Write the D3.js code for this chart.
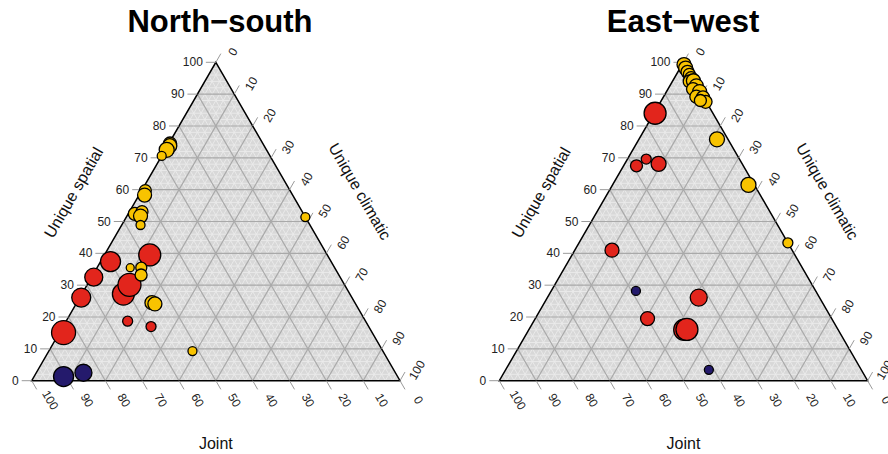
<!DOCTYPE html>
<html>
<head>
<meta charset="utf-8">
<script src="https://cdn.jsdelivr.net/npm/d3@7"></script>
<style>
  body { margin: 0; background: #fff; }
  svg { display: block; }
  text { font-family: "Liberation Sans", Arial, Helvetica, sans-serif; }
</style>
</head>
<body>
<svg id="chart" width="888" height="454"></svg>
<script>
// ---- tick values shared by the three axes of each ternary panel ----
const tickValues = [0, 10, 20, 30, 40, 50, 60, 70, 80, 90, 100];
const tickLabels = tickValues.map(String);
const axisTitles = ["Unique spatial", "Unique climatic", "Joint"];
const panelTitles = ["North\u2212south", "East\u2212west"];

// ---- North–south partition (percent of explained variation) ----
const nsSpatial  = [15.1, 26.1, 32.5, 37.4, 39.5, 27.2, 30.1, 18.7, 17.0,
                    1.3, 2.5,
                    74.5, 73.8, 72.5, 70.6, 59.7, 58.3, 52.4, 53.1, 51.7, 48.9, 51.4,
                    35.5, 35.5, 33.2, 24.5, 24.1, 9.3];
const nsClimatic = [1.1, 0.4, 0.6, 2.7, 12.3, 11.3, 11.5, 16.7, 23.9,
                    8.0, 12.8,
                    0.3, 0.6, 0.4, 0.0, 1.0, 1.5, 1.8, 3.4, 3.7, 5.1, 48.6,
                    9.0, 12.0, 13.1, 20.4, 21.4, 39.0];
const nsJoint    = [83.8, 73.5, 66.9, 59.9, 48.2, 61.5, 58.4, 64.6, 59.1,
                    90.7, 84.7,
                    25.2, 25.6, 27.1, 29.4, 39.3, 40.2, 45.8, 43.5, 44.6, 46.0, 0.0,
                    55.5, 52.5, 53.7, 55.1, 54.5, 51.7];
const nsWeight   = [12, 9.5, 9, 10, 11, 11, 11.5, 5, 5,
                    10, 8.5,
                    6.5, 7, 7.5, 4.5, 6, 7, 6.5, 6, 7, 4.5, 4.5,
                    4, 5.5, 6, 7, 7, 4.5];
const nsGroup    = ["g2", "g2", "g2", "g2", "g2", "g2", "g2", "g2", "g2",
                    "g1", "g1",
                    "g3", "g3", "g3", "g3", "g3", "g3", "g3", "g3", "g3", "g3", "g3",
                    "g3", "g3", "g3", "g3", "g3", "g3"];

// ---- East–west partition ----
const ewSpatial  = [84.0, 67.5, 69.6, 68.1, 41.0, 26.1, 19.5, 16.0, 16.1,
                    28.2, 3.4,
                    75.8, 61.5, 43.3,
                    99.3, 98.2, 97.0, 96.2, 95.0, 94.0, 94.2, 92.6, 91.6, 90.8, 89.2, 89.0, 87.6, 88.0];
const ewClimatic = [0.3, 3.5, 5.1, 9.2, 10.1, 41.1, 30.5, 42.2, 42.9,
                    23.0, 55.2,
                    21.2, 36.9, 56.7,
                    0.5, 1.5, 2.6, 3.5, 4.6, 4.7, 5.6, 7.2, 6.8, 9.0, 8.9, 10.8, 12.2, 10.6];
const ewJoint    = [15.7, 29.0, 25.3, 22.7, 48.9, 32.8, 50.0, 41.8, 41.0,
                    48.8, 41.4,
                    3.0, 1.6, 0.0,
                    0.2, 0.3, 0.4, 0.3, 0.4, 1.3, 0.2, 0.2, 1.6, 0.2, 1.9, 0.2, 0.2, 1.4];
const ewWeight   = [11, 6, 5, 7.5, 7, 8.5, 7, 10.5, 11,
                    4.5, 4.5,
                    7.5, 7.5, 5,
                    7, 7, 6.5, 6, 6.5, 6.5, 7, 7, 6.5, 7, 6.5, 6.5, 6.5, 6];
const ewGroup    = ["g2", "g2", "g2", "g2", "g2", "g2", "g2", "g2", "g2",
                    "g1", "g1",
                    "g3", "g3", "g3",
                    "g3", "g3", "g3", "g3", "g3", "g3", "g3", "g3", "g3", "g3", "g3", "g3", "g3", "g3"];

const groupNames  = ["g1", "g2", "g3"];
const groupColors = ["#241a6c", "#e2251c", "#f8c300"];

// ---- drawing ----
const svg = d3.select("#chart");
const color = d3.scaleOrdinal().domain(groupNames).range(groupColors);
const radius = d3.scaleLinear().domain([0, 12]).range([0, 12]);

const panels = [
  { title: panelTitles[0], left: 31.7, right: 400.0, titleX: 220,
    s: nsSpatial, c: nsClimatic, j: nsJoint, w: nsWeight, g: nsGroup },
  { title: panelTitles[1], left: 499.3, right: 867.6, titleX: 683,
    s: ewSpatial, c: ewClimatic, j: ewJoint, w: ewWeight, g: ewGroup }
];
const baseY = 380.7, topY = 62.3;
const SQ = Math.sqrt(3) / 2;

panels.forEach(p => {
  // horizontal position along the base (climatic + half spatial) and height (spatial)
  const x = d3.scaleLinear().domain([0, 100]).range([p.left, p.right]);
  const y = d3.scaleLinear().domain([0, 100]).range([baseY, topY]);
  const P = (s, c) => [x(c + s / 2), y(s)];

  const g = svg.append("g");

  // triangle background
  const tri = [P(100, 0), P(0, 100), P(0, 0)];
  g.append("path")
    .attr("d", "M" + tri.join("L") + "Z")
    .attr("fill", "#d8d8d8");

  // fine texture grid and major grid
  const minor = d3.range(2, 100, 2).filter(v => v % 10 !== 0);
  const major = tickValues.filter(v => v > 0 && v < 100);
  const gridSegs = vals => vals.flatMap(v => [
    [P(v, 0), P(v, 100 - v)],          // constant spatial
    [P(0, v), P(100 - v, v)],          // constant climatic
    [P(0, 100 - v), P(100 - v, 0)]     // constant joint
  ]);
  g.append("g").selectAll("line").data(gridSegs(minor)).join("line")
    .attr("x1", d => d[0][0]).attr("y1", d => d[0][1])
    .attr("x2", d => d[1][0]).attr("y2", d => d[1][1])
    .attr("stroke", "#ebebeb").attr("stroke-width", 0.9);
  g.append("g").selectAll("line").data(gridSegs(major)).join("line")
    .attr("x1", d => d[0][0]).attr("y1", d => d[0][1])
    .attr("x2", d => d[1][0]).attr("y2", d => d[1][1])
    .attr("stroke", "#a9a9a9").attr("stroke-width", 1.2);

  // outline
  g.append("path")
    .attr("d", "M" + tri.join("L") + "Z")
    .attr("fill", "none").attr("stroke", "#000").attr("stroke-width", 1.5);

  // axes: tick marks and labels
  const tickLen = 10;
  const axes = [
    { at: v => P(v, 0), dir: [-1, 0], off: [-13, 0], rot: 0, anchor: "end" },          // spatial (left)
    { at: v => P(100 - v, v), dir: [0.5, -SQ], off: [17, -10.5], rot: -60, anchor: "middle" }, // climatic (right)
    { at: v => P(0, 100 - v), dir: [0.5, SQ], off: [18.5, 19.5], rot: 60, anchor: "middle" }   // joint (bottom)
  ];
  axes.forEach(a => {
    const ag = g.append("g");
    ag.selectAll("line").data(tickValues).join("line")
      .attr("x1", v => a.at(v)[0]).attr("y1", v => a.at(v)[1])
      .attr("x2", v => a.at(v)[0] + a.dir[0] * tickLen)
      .attr("y2", v => a.at(v)[1] + a.dir[1] * tickLen)
      .attr("stroke", "#9a9a9a").attr("stroke-width", 1);
    ag.selectAll("text").data(tickValues).join("text")
      .attr("transform", v => {
        const q = a.at(v);
        return `translate(${q[0] + a.off[0]},${q[1] + a.off[1]}) rotate(${a.rot})`;
      })
      .attr("text-anchor", a.anchor)
      .attr("dominant-baseline", "central")
      .attr("font-size", 12)
      .attr("fill", "#222")
      .text((v, i) => tickLabels[i]);
  });

  // axis titles
  const midL = P(50, 0), midR = P(50, 50);
  g.append("text")
    .attr("transform", `translate(${midL[0] - SQ * 58},${midL[1] - 0.5 * 58}) rotate(-60)`)
    .attr("text-anchor", "middle").attr("dominant-baseline", "central")
    .attr("font-size", 16).attr("fill", "#111").text(axisTitles[0]);
  g.append("text")
    .attr("transform", `translate(${midR[0] + SQ * 60},${midR[1] - 0.5 * 60}) rotate(60)`)
    .attr("text-anchor", "middle").attr("dominant-baseline", "central")
    .attr("font-size", 16).attr("fill", "#111").text(axisTitles[1]);
  g.append("text")
    .attr("x", x(50)).attr("y", 449)
    .attr("text-anchor", "middle")
    .attr("font-size", 16).attr("fill", "#111").text(axisTitles[2]);

  // panel title
  g.append("text")
    .attr("x", p.titleX).attr("y", 32)
    .attr("text-anchor", "middle")
    .attr("font-size", 31).attr("font-weight", "bold").attr("fill", "#000")
    .text(p.title);

  // points
  const pts = p.s.map((s, i) => {
    const tot = s + p.c[i] + p.j[i];
    return { s: 100 * s / tot, c: 100 * p.c[i] / tot, w: p.w[i], g: p.g[i] };
  });
  g.append("g").selectAll("circle").data(pts).join("circle")
    .attr("cx", d => P(d.s, d.c)[0])
    .attr("cy", d => P(d.s, d.c)[1])
    .attr("r", d => radius(d.w))
    .attr("fill", d => color(d.g))
    .attr("stroke", "#000").attr("stroke-width", 1.3);
});
</script>
</body>
</html>
